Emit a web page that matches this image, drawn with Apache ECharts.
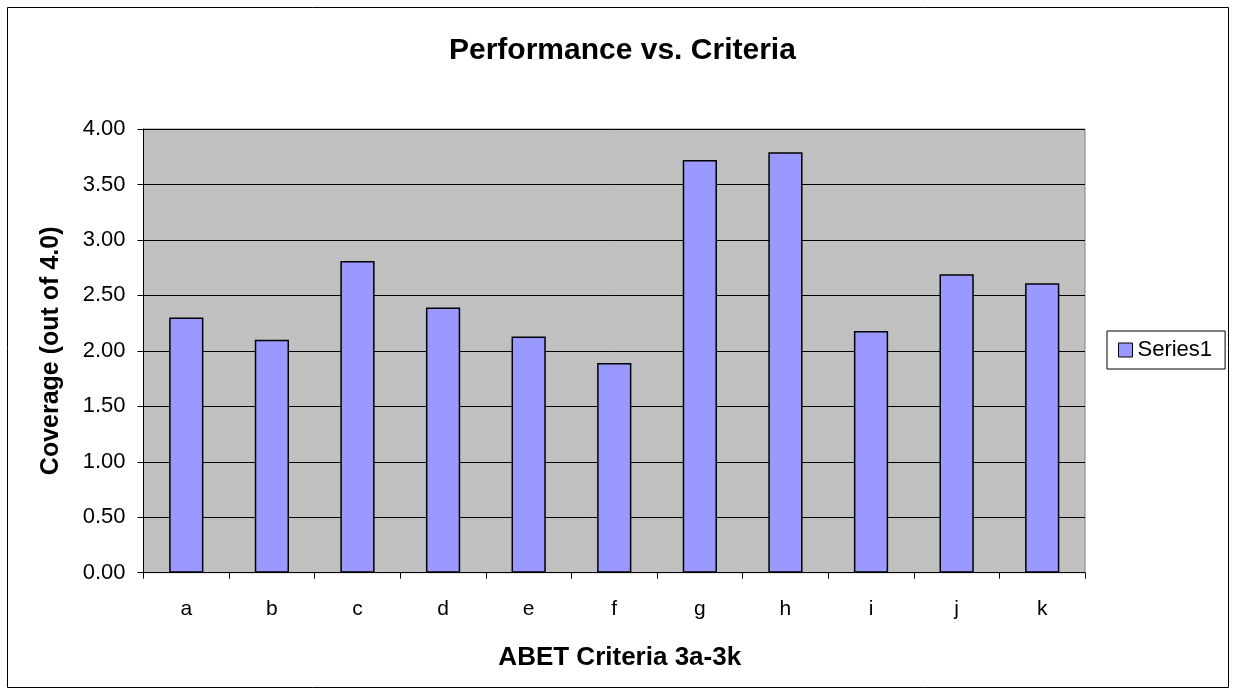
<!DOCTYPE html>
<html>
<head>
<meta charset="utf-8">
<script src="https://cdn.jsdelivr.net/npm/echarts@6/dist/echarts.min.js"></script>
<style>
html,body{margin:0;padding:0;background:#fff;}
#chart{width:1236px;height:694px;}
</style>
</head>
<body>
<div id="chart"></div>
<script>
const categories = ['a','b','c','d','e','f','g','h','i','j','k'];
const series1 = [2.30, 2.10, 2.81, 2.39, 2.13, 1.89, 3.72, 3.79, 2.18, 2.69, 2.61];
const yTicks = {min: 0, max: 4, interval: 0.5};

const chart = echarts.init(document.getElementById('chart'));
const font = 'Liberation Sans, Arial, sans-serif';
chart.setOption({
  animation: false,
  backgroundColor: '#ffffff',
  graphic: [{
    type: 'rect',
    shape: {x: 7.5, y: 7.5, width: 1221, height: 680},
    style: {fill: 'none', stroke: '#000', lineWidth: 1},
    silent: true
  }],
  title: {
    text: 'Performance vs. Criteria',
    left: 444,
    top: 31,
    textStyle: {fontFamily: font, fontSize: 30, fontWeight: 'bold', color: '#000'}
  },
  legend: {
    data: ['Series1'],
    orient: 'vertical',
    left: 1107,
    top: 331,
    padding: [8, 13, 8, 11],
    borderColor: '#000',
    borderWidth: 1,
    backgroundColor: '#fff',
    itemWidth: 14,
    itemHeight: 14,
    itemGap: 6,
    textStyle: {fontFamily: font, fontSize: 22, color: '#000'},
    icon: 'rect',
    itemStyle: {borderColor: '#000', borderWidth: 1}
  },
  grid: {
    left: 143.5,
    right: 151,
    top: 129,
    bottom: 121.3,
    show: true,
    backgroundColor: '#C0C0C0',
    borderColor: '#808080',
    borderWidth: 1
  },
  xAxis: {
    type: 'category',
    data: categories,
    name: 'ABET Criteria 3a-3k',
    nameLocation: 'middle',
    nameGap: 72,
    nameTextStyle: {fontFamily: font, fontSize: 26, fontWeight: 'bold', color: '#000', padding: [0, 0, 0, 11]},
    axisLine: {lineStyle: {color: '#000', width: 1}},
    axisTick: {show: true, alignWithLabel: false, length: 6, lineStyle: {color: '#000'}},
    axisLabel: {fontFamily: font, fontSize: 21, color: '#000', margin: 26}
  },
  yAxis: {
    type: 'value',
    min: yTicks.min,
    max: yTicks.max,
    interval: yTicks.interval,
    name: 'Coverage (out of 4.0)',
    nameLocation: 'middle',
    nameGap: 80,
    nameTextStyle: {fontFamily: font, fontSize: 25, fontWeight: 'bold', color: '#000'},
    axisLine: {show: true, lineStyle: {color: '#000', width: 1}},
    axisTick: {show: true, length: 6, lineStyle: {color: '#000'}},
    axisLabel: {fontFamily: font, fontSize: 22, color: '#000', margin: 18, formatter: v => v.toFixed(2)},
    splitLine: {show: true, lineStyle: {color: '#000', width: 1}}
  },
  series: [{
    name: 'Series1',
    type: 'bar',
    data: series1,
    barCategoryGap: '60%',
    itemStyle: {color: '#9999FF', borderColor: '#000', borderWidth: 1.5}
  }]
});
</script>
</body>
</html>
